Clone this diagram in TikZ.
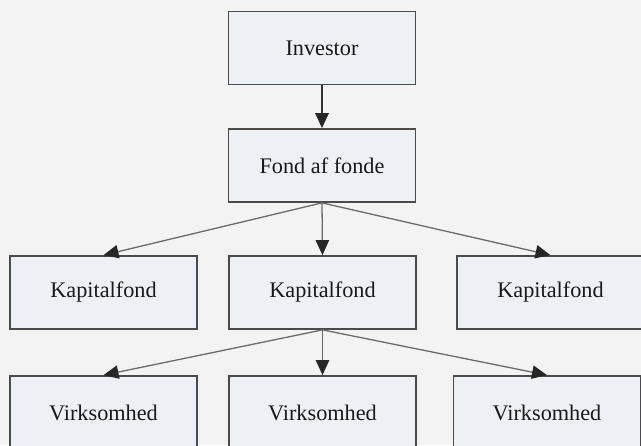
\documentclass[tikz,border=0pt]{standalone}
\usepackage{fontspec}
\setmainfont{Liberation Serif}
\usetikzlibrary{arrows.meta}
\definecolor{bggray}{HTML}{F3F3F3}
\definecolor{boxfill}{HTML}{EDF1F6}
\definecolor{boxline}{HTML}{4A4A4A}
\definecolor{arrline}{HTML}{6A6A6A}
\tikzset{
  boks/.style={draw=boxline, line width=1.2pt, fill=boxfill, minimum width=5.62cm,
    minimum height=2.2cm, inner sep=0pt, text=black!90,
    font=\fontsize{19}{22}\selectfont},
  pil/.style={draw=arrline, line width=1.1pt,
    -{Triangle[length=0.45cm,width=0.4cm,color=black!85]}},
  tykpil/.style={pil, draw=black!80, line width=1.7pt}
}
\begin{document}
\begin{tikzpicture}[x=0.03cm,y=-0.03cm]
\fill[bggray] (0,0) rectangle (641,445) ;
\useasboundingbox (0,0) rectangle (641,445) ;
\clip (0,0) rectangle (641,445) ;
% niveau 1 og 2
\node[boks] (investor) at (322,48) {Investor} ;
\node[boks] (fond) at (322,165.5) {Fond af fonde} ;
% kapitalfonde
\node[boks] (kapV) at (103.5,292.5) {Kapitalfond} ;
\node[boks] (kapM) at (322.5,292.5) {Kapitalfond} ;
\node[boks] (kapH) at (550.5,292.5) {Kapitalfond} ;
% virksomheder
\node[boks] (virkV) at (103.5,412.5) {Virksomhed} ;
\node[boks] (virkM) at (322.5,412.5) {Virksomhed} ;
\node[boks] (virkH) at (547,412.5) {Virksomhed} ;

\draw[tykpil] (investor) -- (fond) ;
\draw[pil] (fond.south) -- (kapV.north) ;
\draw[pil] (fond.south) -- (kapM.north) ;
\draw[pil] (fond.south) -- (kapH.north) ;
\draw[pil] (kapM.south) -- (virkV.north) ;
\draw[pil] (kapM.south) -- (virkM.north) ;
\draw[pil] (kapM.south) -- (virkH.north) ;
\end{tikzpicture}
\end{document}
